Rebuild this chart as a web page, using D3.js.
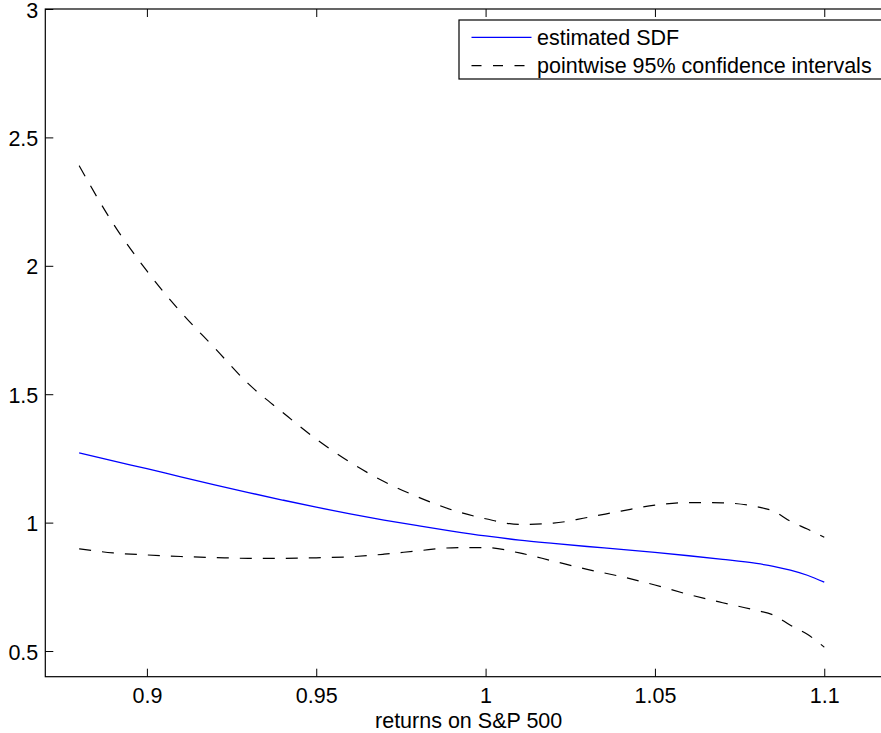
<!DOCTYPE html>
<html>
<head>
<meta charset="utf-8">
<script src="https://cdn.jsdelivr.net/npm/d3@7"></script>
<style>
  body { margin: 0; background: #fff; }
  text { font-family: "Liberation Sans", Arial, Helvetica, sans-serif; }
</style>
</head>
<body>
<div id="chart"></div>
<script>
// SDF estimate with pointwise 95% bands, against S&P 500 returns

var returns = [0.88, 0.89, 0.90, 0.91, 0.92, 0.93, 0.94, 0.95, 0.96, 0.97, 0.98, 0.99,
  1.00, 1.01, 1.02, 1.03, 1.04, 1.05, 1.06, 1.07, 1.08, 1.085, 1.09, 1.095, 1.10];

var sdf = [1.272, 1.240, 1.210, 1.178, 1.147, 1.117, 1.088, 1.060, 1.034, 1.010, 0.988, 0.967,
  0.948, 0.932, 0.919, 0.907, 0.896, 0.884, 0.871, 0.857, 0.841, 0.830, 0.815, 0.795, 0.768];

var upperCI = [2.390, 2.165, 1.980, 1.820, 1.680, 1.540, 1.430, 1.325, 1.235, 1.160, 1.100, 1.050,
  1.015, 0.993, 0.998, 1.020, 1.045, 1.068, 1.078, 1.077, 1.062, 1.045, 1.005, 0.975, 0.943];

var lowerCI = [0.898, 0.882, 0.874, 0.868, 0.864, 0.861, 0.861, 0.863, 0.867, 0.877, 0.890, 0.902,
  0.903, 0.882, 0.850, 0.818, 0.790, 0.757, 0.720, 0.688, 0.658, 0.640, 0.600, 0.565, 0.515];

var xTicks = [0.9, 0.95, 1, 1.05, 1.1];
var yTicks = [0.5, 1, 1.5, 2, 2.5, 3];

var legendLabels = ["estimated SDF", "pointwise 95% confidence intervals"];

var svgWidth = 881;
var svgHeight = 733;

var margin = { top: 9, left: 45.3 };
var width = 846.7;
var height = 667.7;
var fontSize = 21.5;

var svg = d3.select("#chart")
  .append("svg")
  .attr("width", svgWidth)
  .attr("height", svgHeight);

var chartGroup = svg.append("g")
  .attr("transform", `translate(${margin.left}, ${margin.top})`);

var x = d3.scaleLinear()
  .domain([0.87, 1.12])
  .range([0, width]);

var y = d3.scaleLinear()
  .domain([0.4, 3])
  .range([height, 0]);

// axes, ticks pointing inward like matlab
var bottomAxis = d3.axisBottom(x).tickValues(xTicks).tickSize(-8).tickPadding(11)
  .tickFormat(d3.format("~g"));
var topAxis = d3.axisTop(x).tickValues(xTicks).tickSize(-8).tickFormat("");
var leftAxis = d3.axisLeft(y).tickValues(yTicks).tickSize(-8).tickPadding(7)
  .tickFormat(d3.format("~g"));
var rightAxis = d3.axisRight(y).tickValues(yTicks).tickSize(-8).tickFormat("");

function styleAxis(g) {
  g.select(".domain").remove();
  g.selectAll("line").attr("stroke", "#000").attr("stroke-width", 1);
  g.selectAll("text").attr("font-size", fontSize).attr("fill", "#000")
    .style("font-family", '"Liberation Sans", Arial, Helvetica, sans-serif');
}

chartGroup.append("g")
  .attr("transform", `translate(0, ${height})`)
  .call(bottomAxis)
  .call(styleAxis);

chartGroup.append("g")
  .call(topAxis)
  .call(styleAxis);

chartGroup.append("g")
  .call(leftAxis)
  .call(styleAxis)
  .selectAll("text")
  .attr("dy", "0.38em");

chartGroup.append("g")
  .attr("transform", `translate(${width}, 0)`)
  .call(rightAxis)
  .call(styleAxis);

chartGroup.append("rect")
  .attr("width", width)
  .attr("height", height)
  .attr("fill", "none")
  .attr("stroke", "#000")
  .attr("stroke-width", 1.2);

// curves
var line = d3.line()
  .x(d => x(d[0]))
  .y(d => y(d[1]))
  .curve(d3.curveMonotoneX);

chartGroup.append("path")
  .datum(d3.zip(returns, upperCI))
  .attr("d", line)
  .attr("fill", "none")
  .attr("stroke", "#000")
  .attr("stroke-width", 1.2)
  .attr("stroke-dasharray", "12,11");

chartGroup.append("path")
  .datum(d3.zip(returns, lowerCI))
  .attr("d", line)
  .attr("fill", "none")
  .attr("stroke", "#000")
  .attr("stroke-width", 1.2)
  .attr("stroke-dasharray", "12,11");

chartGroup.append("path")
  .datum(d3.zip(returns, sdf))
  .attr("d", line)
  .attr("fill", "none")
  .attr("stroke", "#0000ff")
  .attr("stroke-width", 1.3);

// x label
svg.append("text")
  .attr("x", margin.left + width / 2)
  .attr("y", 728)
  .attr("text-anchor", "middle")
  .attr("font-size", fontSize)
  .text("returns on S&P 500");

// legend
var legend = svg.append("g")
  .attr("transform", "translate(459, 20)");

legend.append("rect")
  .attr("width", 440)
  .attr("height", 59)
  .attr("fill", "#fff")
  .attr("stroke", "#000")
  .attr("stroke-width", 1.2);

var rowY = [17.3, 45.7];

legend.append("line")
  .attr("x1", 12.5).attr("x2", 72.5)
  .attr("y1", rowY[0]).attr("y2", rowY[0])
  .attr("stroke", "#0000ff")
  .attr("stroke-width", 1.3);

legend.append("line")
  .attr("x1", 12.5).attr("x2", 72.5)
  .attr("y1", rowY[1]).attr("y2", rowY[1])
  .attr("stroke", "#000")
  .attr("stroke-width", 1.2)
  .attr("stroke-dasharray", "10,11.5");

legend.selectAll("text.lbl")
  .data(legendLabels)
  .enter()
  .append("text")
  .attr("class", "lbl")
  .attr("x", 78)
  .attr("y", (d, i) => rowY[i] + 7.5)
  .attr("font-size", fontSize)
  .text(d => d);
</script>
</body>
</html>
